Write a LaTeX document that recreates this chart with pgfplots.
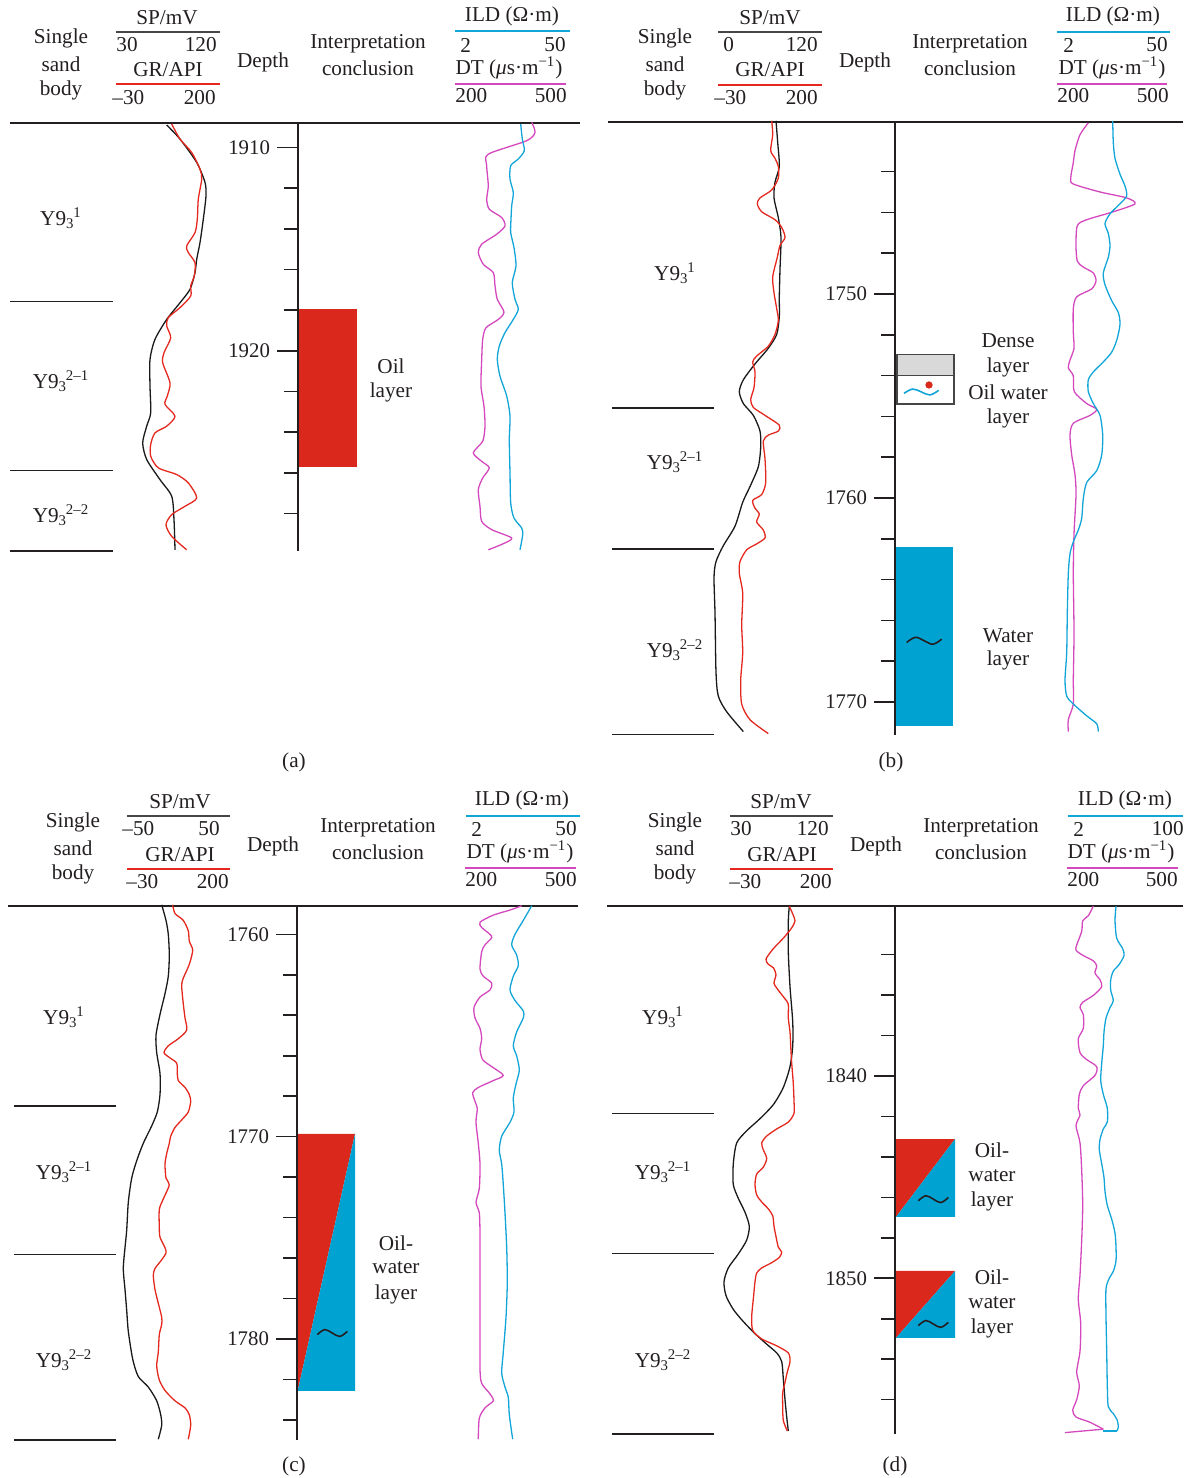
\documentclass[border=0pt]{standalone}
\usepackage{fontspec}
\setmainfont{Liberation Serif}
\usepackage{pgfplots}
\pgfplotsset{compat=1.18}

\definecolor{ink}{RGB}{35,31,32}
\definecolor{cSP}{RGB}{25,25,25}
\definecolor{cGR}{RGB}{228,40,30}
\definecolor{cILD}{RGB}{18,165,215}
\definecolor{cDT}{RGB}{212,72,190}
\definecolor{oilred}{RGB}{218,41,28}
\definecolor{watblue}{RGB}{0,162,210}
\definecolor{dense}{RGB}{217,217,217}
\definecolor{rulegray}{RGB}{70,70,70}

\newcommand\fs{\fontsize{10.6}{13}\selectfont}
\newcommand\numfont{\fontsize{10.4}{12}\selectfont}
\newcommand\Y[1]{Y9\textsubscript{3}\kern-0.6pt\textsuperscript{#1}}

\pgfplotsset{
  panel/.style={anchor=north west, scale only axis, width=594pt,
    xmin=0, xmax=1188, y dir=reverse, hide axis, clip=false},
  depthaxis/.style={anchor=north west, scale only axis, width=20pt,
    xmin=0, xmax=1, y dir=reverse, clip=false,
    axis x line=none, axis y line*=left, ytick pos=left, xtick=\empty,
    tick align=outside, major tick length=10.5pt, minor tick length=7pt,
    axis line style={ink, line width=0.8pt},
    every major tick/.append style={ink, line width=0.8pt},
    every minor tick/.append style={ink, line width=0.8pt},
    yticklabel style={font=\numfont, text=ink},
    /pgf/number format/assume math mode=true,
    /pgf/number format/1000 sep={}},
  logsp/.style={cSP, line width=0.65pt, smooth, tension=0.45, mark=none},
  loggr/.style={cGR, line width=0.65pt, smooth, tension=0.45, mark=none},
  logild/.style={cILD, line width=0.65pt, smooth, tension=0.45, mark=none},
  logdt/.style={cDT, line width=0.65pt, smooth, tension=0.45, mark=none},
  zone/.style={ink, line width=0.75pt, mark=none},
  wave/.style={line width=0.8pt, smooth, tension=0.6, mark=none},
}

\begin{document}
\begin{tikzpicture}
\path[use as bounding box] (0pt,0pt) rectangle (594pt,-739pt);

% ---------------- headers, captions and labels (pixel grid: 0.5pt per unit)
\begin{scope}[x=0.5pt, y=-0.5pt, every node/.style={font=\fs, text=ink, inner sep=0pt}]
  % (a)
  \node at (61,38) {Single}; \node at (61,64) {sand}; \node at (61,90) {body};
  \node at (167,18) {SP/mV};
  \draw[rulegray, line width=1pt] (116,32) -- (220,32);
  \node[anchor=west] at (116,45) {30}; \node[anchor=east] at (217,45) {120};
  \node at (168,70) {GR/API};
  \draw[cGR, line width=1pt] (116,84) -- (220,84);
  \node[anchor=west] at (112,98) {–30}; \node[anchor=east] at (216,98) {200};
  \node at (263,62) {Depth};
  \node at (368,44) {Interpretation}; \node at (368,68) {conclusion};
  \node at (512,16) {ILD (Ω·m)};
  \draw[cILD, line width=1pt] (455,31) -- (570,31);
  \node[anchor=west] at (460,45) {2}; \node[anchor=east] at (566,45) {50};
  \node at (509,68) {DT (\textit{μ}s·m\textsuperscript{−1})};
  \draw[cDT, line width=1pt] (455,84) -- (566,84);
  \node[anchor=west] at (455,96) {200}; \node[anchor=east] at (567,96) {500};
  \draw[ink, line width=0.8pt] (10,123) -- (580,123);
  \node at (61,218) {\Y{1}}; \node at (61,381) {\Y{2–1}}; \node at (61,515) {\Y{2–2}};
  \node at (391,366) {Oil}; \node at (391,392) {layer};
  \node at (294,762) {(a)};

  % (b)
  \node at (665,38) {Single}; \node at (665,64) {sand}; \node at (665,90) {body};
  \node at (770,18) {SP/mV};
  \draw[rulegray, line width=1pt] (718,32) -- (822,32);
  \node[anchor=west] at (723,45) {0}; \node[anchor=east] at (818,45) {120};
  \node at (770,70) {GR/API};
  \draw[cGR, line width=1pt] (718,85) -- (822,85);
  \node[anchor=west] at (714,98) {–30}; \node[anchor=east] at (818,98) {200};
  \node at (865,62) {Depth};
  \node at (970,44) {Interpretation}; \node at (970,68) {conclusion};
  \node at (1113,16) {ILD (Ω·m)};
  \draw[cILD, line width=1pt] (1057,32) -- (1170,32);
  \node[anchor=west] at (1063,45) {2}; \node[anchor=east] at (1168,45) {50};
  \node at (1112,68) {DT (\textit{μ}s·m\textsuperscript{−1})};
  \draw[cDT, line width=1pt] (1057,84) -- (1167,84);
  \node[anchor=west] at (1057,96) {200}; \node[anchor=east] at (1169,96) {500};
  \draw[ink, line width=0.8pt] (608,122) -- (1183,122);
  \node at (675,273) {\Y{1}}; \node at (675,462) {\Y{2–1}}; \node at (675,650) {\Y{2–2}};
  \node at (1008,341) {Dense}; \node at (1008,367) {layer};
  \node at (1008,392) {Oil water}; \node at (1008,418) {layer};
  \node at (1008,636) {Water}; \node at (1008,660) {layer};
  \node at (891,762) {(b)};

  % (c)
  \node at (73,822) {Single}; \node at (73,848) {sand}; \node at (73,874) {body};
  \node at (180,802) {SP/mV};
  \draw[rulegray, line width=1pt] (127,816) -- (230,816);
  \node[anchor=west] at (122,829) {–50}; \node[anchor=east] at (220,829) {50};
  \node at (180,855) {GR/API};
  \draw[cGR, line width=1pt] (127,869) -- (230,869);
  \node[anchor=west] at (126,882) {–30}; \node[anchor=east] at (229,882) {200};
  \node at (273,846) {Depth};
  \node at (378,828) {Interpretation}; \node at (378,852) {conclusion};
  \node at (522,800) {ILD (Ω·m)};
  \draw[cILD, line width=1pt] (466,816) -- (580,816);
  \node[anchor=west] at (471,829) {2}; \node[anchor=east] at (577,829) {50};
  \node at (520,852) {DT (\textit{μ}s·m\textsuperscript{−1})};
  \draw[cDT, line width=1pt] (465,868) -- (576,868);
  \node[anchor=west] at (465,880) {200}; \node[anchor=east] at (577,880) {500};
  \draw[ink, line width=0.8pt] (8,906) -- (578,906);
  \node at (64,1017) {\Y{1}}; \node at (64,1172) {\Y{2–1}}; \node at (64,1360) {\Y{2–2}};
  \node at (396,1243) {Oil-}; \node at (396,1268) {water}; \node at (396,1294) {layer};
  \node at (294,1466) {(c)};

  % (d)
  \node at (675,822) {Single}; \node at (675,848) {sand}; \node at (675,874) {body};
  \node at (781,802) {SP/mV};
  \draw[rulegray, line width=1pt] (730,816) -- (833,816);
  \node[anchor=west] at (730,829) {30}; \node[anchor=east] at (829,829) {120};
  \node at (782,855) {GR/API};
  \draw[cGR, line width=1pt] (730,869) -- (833,869);
  \node[anchor=west] at (729,882) {–30}; \node[anchor=east] at (832,882) {200};
  \node at (876,846) {Depth};
  \node at (981,828) {Interpretation}; \node at (981,852) {conclusion};
  \node at (1125,800) {ILD (Ω·m)};
  \draw[cILD, line width=1pt] (1068,816) -- (1183,816);
  \node[anchor=west] at (1073,829) {2}; \node[anchor=east] at (1184,829) {100};
  \node at (1121,852) {DT (\textit{μ}s·m\textsuperscript{−1})};
  \draw[cDT, line width=1pt] (1067,868) -- (1178,868);
  \node[anchor=west] at (1067,880) {200}; \node[anchor=east] at (1178,880) {500};
  \draw[ink, line width=0.8pt] (607,906) -- (1183,906);
  \node at (663,1017) {\Y{1}}; \node at (663,1172) {\Y{2–1}}; \node at (663,1360) {\Y{2–2}};
  \node at (992,1150) {Oil-}; \node at (992,1176) {water}; \node at (992,1201) {layer};
  \node at (992,1277) {Oil-}; \node at (992,1303) {water}; \node at (992,1328) {layer};
  \node at (895,1466) {(d)};
\end{scope}

% ======================= (a) well section, 1908.8-1929.85 m
\begin{axis}[panel, at={(0pt,-61.5pt)}, height=214pt, ymin=1908.8, ymax=1929.85]
  % sand-body boundaries
  \addplot[zone] coordinates {(10,1917.58) (113,1917.58)};
  \addplot[zone] coordinates {(10,1925.9) (113,1925.9)};
  \addplot[zone] coordinates {(10,1929.85) (113,1929.85)};
  % interpretation: oil layer
  \addplot[fill=oilred, draw=none] coordinates {(299,1917.95) (356.7,1917.95) (356.7,1925.7) (299,1925.7)} --cycle;
  % SP
  \addplot[logsp] coordinates {(166.7,1908.90) (180,1909.59) (196.7,1910.74) (205,1911.72) (206,1912.38) (203.3,1913.53) (200,1914.68) (196.7,1915.50) (195,1916.16) (190,1916.98) (180,1917.64) (166.7,1918.46) (155,1919.44) (150,1920.43) (150,1921.74) (150.7,1923.05) (146.7,1923.71) (142.7,1924.53) (146.7,1925.35) (160,1926.34) (171.7,1927.16) (174,1928.31) (175,1929.79)};
  % GR
  \addplot[loggr] coordinates {(171.7,1908.85) (180,1909.59) (191.7,1910.25) (200,1911.07) (201.7,1911.56) (198.3,1912.55) (197.3,1913.53) (195,1914.19) (186.7,1914.84) (188.3,1915.17) (195,1915.67) (194.3,1916.32) (190.7,1916.81) (190.7,1917.31) (180,1917.88) (168.3,1918.37) (166.7,1918.78) (170.7,1919.36) (164,1920.10) (162.7,1920.59) (170,1921.58) (167.3,1922.23) (165,1922.64) (175,1923.22) (166.7,1923.71) (155,1924.04) (150.7,1924.61) (150.7,1925.19) (158.3,1925.76) (176.7,1926.09) (188.3,1926.50) (196.7,1927.24) (185,1927.65) (171.7,1928.06) (166,1928.56) (171.7,1929.13) (186.7,1929.79)};
  % DT
  \addplot[logdt] coordinates {(531.7,1908.77) (535,1909.26) (526.7,1909.67) (488.3,1910.33) (486.7,1910.90) (488.3,1911.89) (486.7,1912.55) (489.3,1913.04) (501.7,1913.45) (505,1913.86) (496.7,1914.27) (481.7,1914.76) (478.3,1915.17) (483.3,1915.75) (493.3,1916.16) (495,1916.81) (497.3,1917.47) (504,1918.10) (498.3,1918.46) (486,1918.87) (482.7,1919.44) (481.7,1920.43) (481,1921.74) (484,1922.73) (485,1923.71) (482.7,1924.45) (473.3,1925.02) (481.7,1925.44) (489.3,1925.76) (482.7,1926.26) (478.3,1926.83) (480,1927.65) (481.7,1928.39) (491.7,1928.80) (511.7,1929.21) (503.3,1929.49) (488.3,1929.79)};
  % ILD
  \addplot[logild] coordinates {(520.7,1908.85) (522.3,1909.59) (524.3,1910.16) (518.3,1910.57) (510.7,1910.90) (510,1911.56) (513.3,1912.22) (511.7,1912.87) (511,1913.53) (510.7,1914.19) (514,1914.93) (516,1915.83) (512.3,1916.65) (515,1917.47) (518.3,1917.96) (513.3,1918.46) (505,1919.11) (499.3,1919.77) (497.3,1920.43) (500,1921.25) (506.7,1922.23) (510,1923.22) (509.3,1924.37) (510,1926.01) (510.7,1927.49) (514,1928.23) (521.7,1928.72) (522.7,1929.05) (520,1929.79)};
\end{axis}
\begin{axis}[depthaxis, at={(149pt,-61.5pt)}, height=214pt, ymin=1908.8, ymax=1929.85,
  ytick={1910,1920}, minor ytick={1912,1914,1916,1918,1922,1924,1926,1928}]
\end{axis}

% ======================= (b) well section, 1741.57-1771.62 m
\begin{axis}[panel, at={(0pt,-61pt)}, height=306.5pt, ymin=1741.57, ymax=1771.62]
  \addplot[zone] coordinates {(612,1755.6) (714,1755.6)};
  \addplot[zone] coordinates {(612,1762.5) (714,1762.5)};
  \addplot[zone] coordinates {(612,1771.6) (714,1771.6)};
  % interpretation: dense layer, oil-water layer, water layer
  \addplot[fill=dense, draw=rulegray, line width=0.9pt] coordinates {(897.3,1752.97) (954,1752.97) (954,1754.0) (897.3,1754.0)} --cycle;
  \addplot[fill=white, draw=rulegray, line width=0.9pt] coordinates {(897.3,1754.0) (954,1754.0) (954,1755.4) (897.3,1755.4)} --cycle;
  \addplot[wave, cILD] coordinates {(904,1754.87) (912.7,1754.66) (921.3,1754.8) (930,1754.95) (938.7,1754.72)};
  \addplot[only marks, mark=*, mark size=1.6pt, color=oilred] coordinates {(929,1754.46)};
  \addplot[fill=watblue, draw=none] coordinates {(896,1762.4) (952.7,1762.4) (952.7,1771.2) (896,1771.2)} --cycle;
  \addplot[wave, ink] coordinates {(906.7,1767.08) (915.5,1766.83) (924.2,1767.0) (933,1767.17) (941.7,1766.92)};
  % SP
  \addplot[logsp] coordinates {(776,1741.51) (777.7,1742.58) (779.3,1743.74) (775,1744.52) (774,1745.29) (778.3,1746.26) (781,1747.23) (780,1748.78) (779.3,1750.14) (779.3,1751.10) (776.7,1751.98) (768.3,1752.66) (755,1753.43) (743.3,1754.21) (739.3,1754.79) (743.3,1755.37) (753.3,1755.95) (760,1756.72) (760.7,1757.50) (758.3,1758.47) (750,1759.44) (742.7,1760.21) (735,1761.38) (723.3,1762.34) (716,1763.12) (714,1763.90) (715,1765.64) (716,1768.55) (718.3,1769.71) (726.7,1770.48) (743.3,1771.45)};
  % GR
  \addplot[loggr] coordinates {(771.7,1741.51) (772.7,1742.19) (770.7,1742.97) (775,1743.35) (778.3,1743.74) (778.3,1744.32) (771.7,1744.90) (760,1745.29) (757.3,1745.58) (761.7,1745.97) (775,1746.36) (781.7,1746.74) (785,1747.23) (780,1747.62) (777.3,1748.20) (772.7,1749.17) (774,1749.94) (776.7,1750.72) (778.3,1751.30) (775,1751.98) (768.3,1752.56) (756.7,1753.04) (752.7,1753.33) (755,1753.82) (754,1754.59) (750.7,1755.17) (753.3,1755.56) (765,1755.95) (779.3,1756.43) (778.3,1756.72) (768.3,1756.92) (763.3,1757.21) (765,1758.08) (765.7,1759.24) (761.7,1759.83) (752.7,1760.12) (755,1760.50) (759.3,1760.79) (756.7,1761.18) (763.3,1761.57) (765,1761.96) (756.7,1762.25) (746.7,1762.54) (740,1763.12) (739.3,1763.70) (742.7,1764.67) (741.7,1766.22) (742.7,1767.58) (740.7,1768.93) (741.7,1770.10) (750,1770.87) (768.3,1771.55)};
  % DT
  \addplot[logdt] coordinates {(1088.3,1741.61) (1080,1742.19) (1075,1742.97) (1073.3,1743.55) (1070.7,1744.32) (1073.3,1744.61) (1100,1745.00) (1126.7,1745.29) (1135,1745.58) (1113.3,1745.97) (1086.7,1746.36) (1077.3,1746.65) (1076,1747.62) (1077.3,1748.39) (1083.3,1748.68) (1093.3,1748.97) (1096,1749.36) (1091.7,1749.75) (1076.7,1750.14) (1073.3,1750.72) (1073.3,1751.88) (1074,1752.66) (1070,1753.24) (1068.3,1753.62) (1073.3,1754.01) (1074.3,1754.79) (1086.7,1755.37) (1096.7,1755.66) (1090,1755.95) (1073.3,1756.34) (1070,1756.92) (1071.7,1757.89) (1075,1758.86) (1076,1759.83) (1074,1761.77) (1073.3,1763.70) (1074,1766.61) (1073.3,1768.93) (1073.3,1770.10) (1068.3,1770.87) (1068.3,1771.45)};
  % ILD
  \addplot[logild] coordinates {(1112.7,1741.51) (1113.3,1742.58) (1115,1743.35) (1120,1744.13) (1125,1744.71) (1126.7,1745.19) (1120,1745.58) (1110,1746.07) (1105,1746.55) (1108.3,1747.03) (1110,1747.62) (1108.3,1748.20) (1103.3,1748.97) (1105,1749.55) (1111.7,1750.33) (1118.3,1750.91) (1120,1751.49) (1116.7,1752.27) (1111.7,1752.85) (1103.3,1753.33) (1093.3,1753.82) (1088.3,1754.21) (1088.3,1754.79) (1093.3,1755.37) (1100,1755.95) (1102.7,1756.92) (1101.7,1757.89) (1096.7,1758.66) (1086.7,1759.24) (1083.3,1760.02) (1081.7,1760.99) (1078.3,1761.57) (1073.3,1762.15) (1070,1762.73) (1068.3,1763.70) (1067.3,1765.64) (1066.7,1767.58) (1065,1768.93) (1066.7,1769.71) (1073.3,1770.10) (1086.7,1770.68) (1096.7,1771.07) (1098.3,1771.45)};
\end{axis}
\begin{axis}[depthaxis, at={(447.5pt,-61pt)}, height=306.5pt, ymin=1741.57, ymax=1771.62,
  ytick={1750,1760,1770}, minor ytick={1744,1746,1748,1752,1754,1756,1758,1762,1764,1766,1768}]
\end{axis}

% ======================= (c) well section, 1758.6-1785.0 m
\begin{axis}[panel, at={(0pt,-453pt)}, height=267pt, ymin=1758.6, ymax=1785.0]
  \addplot[zone] coordinates {(14,1768.49) (116,1768.49)};
  \addplot[zone] coordinates {(14,1775.83) (116,1775.83)};
  \addplot[zone] coordinates {(14,1785.0) (116,1785.0)};
  % interpretation: oil-water layer
  \addplot[fill=oilred, draw=none] coordinates {(297.7,1769.87) (355,1769.87) (297.7,1782.57)} --cycle;
  \addplot[fill=watblue, draw=none] coordinates {(355,1769.87) (355,1782.57) (297.7,1782.57)} --cycle;
  \addplot[wave, ink] coordinates {(317.3,1779.79) (324.8,1779.54) (332.3,1779.71) (339.8,1779.88) (347.3,1779.63)};
  % SP
  \addplot[logsp] coordinates {(161.7,1758.54) (166,1759.31) (168.3,1760.00) (169.3,1761.03) (168.3,1762.07) (165,1762.93) (160,1763.96) (156,1764.99) (156.7,1765.85) (160,1766.88) (160,1767.92) (157.3,1768.78) (151.7,1769.47) (143.3,1770.33) (136.7,1771.19) (131.7,1772.05) (128.3,1773.25) (126.7,1774.63) (125,1775.49) (123.3,1776.52) (125,1777.56) (126.7,1778.59) (128.3,1779.62) (132.7,1781.00) (138.3,1781.86) (148.3,1782.38) (156.7,1783.06) (160.7,1783.75) (161.7,1784.27) (158.3,1784.96)};
  % GR
  \addplot[loggr] coordinates {(172.7,1758.54) (175,1758.97) (183.3,1759.31) (188.3,1759.83) (189.3,1760.34) (192.7,1760.77) (190,1761.38) (187.3,1761.72) (182.7,1762.24) (181.7,1762.58) (183.3,1763.44) (185,1764.13) (186.7,1764.73) (178.3,1765.16) (168.3,1765.51) (164,1765.85) (170,1766.11) (176.7,1766.37) (177.3,1766.88) (178.3,1767.23) (185,1767.57) (189.3,1767.92) (190.7,1768.26) (188.3,1768.78) (182.7,1769.12) (175,1769.55) (170.7,1769.98) (169.3,1770.33) (166.7,1770.84) (165,1771.36) (166,1772.05) (169.3,1772.39) (163.3,1773.08) (159.3,1773.60) (159.3,1774.46) (160,1774.97) (165,1775.49) (166,1775.75) (161.7,1776.09) (155,1776.52) (153.3,1776.87) (155,1777.56) (158.3,1778.24) (161.7,1778.93) (161.7,1779.28) (159.3,1779.79) (158.3,1780.65) (156.7,1781.34) (159.3,1782.03) (165,1782.55) (175,1783.06) (185,1783.41) (189.3,1783.75) (190.7,1784.27) (188.3,1784.96)};
  % DT
  \addplot[logdt] coordinates {(521.7,1758.59) (510,1758.80) (493.3,1759.05) (480,1759.40) (481.7,1759.66) (490,1760.00) (491.7,1760.17) (485,1760.52) (481.7,1760.86) (480,1761.72) (483.3,1762.07) (491.7,1762.41) (490,1762.75) (480,1763.10) (474,1763.61) (475,1764.13) (480,1764.65) (481.7,1765.16) (480,1765.68) (482.7,1766.20) (491.7,1766.54) (503.3,1766.97) (493.3,1767.23) (478.3,1767.57) (472.7,1767.83) (475,1768.26) (477.3,1768.61) (476,1769.29) (478.3,1770.33) (480,1771.36) (479.3,1772.56) (476,1773.25) (479.3,1773.77) (480,1774.80) (480,1776.35) (480,1778.07) (480,1779.79) (480,1781.51) (481.7,1782.20) (490,1782.72) (493.3,1783.06) (485,1783.41) (479.3,1783.92) (478.3,1784.96)};
  % ILD
  \addplot[logild] coordinates {(531.7,1758.59) (523.3,1759.31) (515,1760.00) (511.7,1760.52) (516.7,1761.03) (518.3,1761.55) (513.3,1762.07) (510,1762.75) (515,1763.27) (523.3,1763.79) (523.3,1764.13) (516.7,1764.82) (513.3,1765.51) (516.7,1766.02) (519.3,1766.71) (516,1767.40) (513.3,1768.09) (514,1768.78) (510,1769.29) (501.7,1769.98) (499.3,1770.67) (501.7,1771.36) (503.3,1772.39) (505,1773.77) (506.7,1775.49) (507.3,1777.21) (506,1778.93) (503.3,1780.65) (501.7,1781.69) (505,1782.38) (508.3,1782.89) (509.3,1783.75) (512.7,1784.96)};
\end{axis}
\begin{axis}[depthaxis, at={(148.5pt,-453pt)}, height=267pt, ymin=1758.6, ymax=1785.0,
  ytick={1760,1770,1780}, minor ytick={1762,1764,1766,1768,1772,1774,1776,1778,1782,1784}]
\end{axis}

% ======================= (d) well section, 1831.6-1857.7 m
\begin{axis}[panel, at={(0pt,-453pt)}, height=264pt, ymin=1831.6, ymax=1857.7]
  \addplot[zone] coordinates {(612,1841.85) (714,1841.85)};
  \addplot[zone] coordinates {(612,1848.77) (714,1848.77)};
  \addplot[zone] coordinates {(612,1857.7) (714,1857.7)};
  % interpretation: two oil-water layers
  \addplot[fill=oilred, draw=none] coordinates {(896,1843.12) (955,1843.12) (896,1846.97)} --cycle;
  \addplot[fill=watblue, draw=none] coordinates {(955,1843.12) (955,1846.97) (896,1846.97)} --cycle;
  \addplot[wave, ink] coordinates {(918.3,1846.17) (925.8,1845.92) (933.3,1846.09) (940.8,1846.26) (948.3,1846.01)};
  \addplot[fill=oilred, draw=none] coordinates {(896,1849.64) (955,1849.64) (896,1852.95)} --cycle;
  \addplot[fill=watblue, draw=none] coordinates {(955,1849.64) (955,1852.95) (896,1852.95)} --cycle;
  \addplot[wave, ink] coordinates {(918.3,1852.34) (925.8,1852.09) (933.3,1852.26) (940.8,1852.43) (948.3,1852.18)};
  % SP
  \addplot[logsp] coordinates {(789.3,1831.61) (788.3,1832.33) (788.3,1833.88) (790,1835.59) (792.7,1837.31) (792.7,1838.51) (790,1839.54) (783.3,1840.57) (773.3,1841.42) (760,1842.11) (746.7,1842.71) (736.7,1843.31) (733.3,1844.34) (733.3,1845.37) (738.3,1846.05) (745,1846.74) (749.3,1847.43) (746.7,1848.11) (738.3,1848.80) (728.3,1849.49) (724,1850.17) (726,1850.86) (733.3,1851.54) (743.3,1852.14) (755,1852.74) (766.7,1853.26) (776.7,1853.69) (781.7,1854.12) (783.3,1854.97) (785,1856.00) (786.7,1856.86) (788.3,1857.55)};
  % GR
  \addplot[loggr] coordinates {(789.3,1831.61) (792.7,1831.99) (795,1832.33) (791.7,1832.68) (783.3,1833.19) (773.3,1833.71) (766,1834.22) (768.3,1834.48) (773.3,1834.65) (776,1834.99) (774,1835.42) (778.3,1835.76) (785,1836.19) (788.3,1836.45) (788.3,1837.14) (790,1837.82) (790.7,1838.51) (791.7,1839.37) (793.3,1840.39) (794,1841.25) (794,1841.85) (788.3,1842.28) (776.7,1842.62) (766.7,1842.97) (761.7,1843.31) (763.3,1843.65) (766.7,1844.08) (763.3,1844.51) (756.7,1844.85) (755,1845.37) (756.7,1845.88) (761.7,1846.23) (768.3,1846.57) (772.7,1846.91) (774,1847.43) (776,1847.94) (778.3,1848.46) (781.7,1848.71) (779.3,1848.97) (771.7,1849.23) (761.7,1849.49) (756.7,1849.74) (755,1850.17) (753.3,1851.03) (751.7,1851.89) (752.7,1852.57) (761.7,1853.00) (776.7,1853.34) (788.3,1853.69) (790,1854.12) (787.3,1854.63) (785,1855.15) (782.7,1855.66) (782.7,1856.35) (783.3,1857.03) (787.3,1857.55)};
  % DT
  \addplot[logdt] coordinates {(1093.3,1831.61) (1088.3,1832.08) (1082.7,1832.33) (1081.7,1832.85) (1076.7,1833.53) (1076,1833.79) (1083.3,1834.05) (1093.3,1834.31) (1096.7,1834.56) (1095,1834.91) (1100,1835.25) (1101.7,1835.59) (1093.3,1836.02) (1082.7,1836.36) (1080,1836.62) (1083.3,1836.96) (1083.3,1837.65) (1078.3,1838.16) (1080,1838.85) (1086.7,1839.19) (1096.7,1839.54) (1095,1839.97) (1083.3,1840.48) (1079.3,1840.91) (1078.3,1841.60) (1080,1841.94) (1076,1842.45) (1080,1843.31) (1081.7,1844.68) (1082.7,1846.40) (1081.7,1848.11) (1080,1849.83) (1078.3,1851.03) (1080.7,1852.23) (1080,1853.60) (1076.7,1854.63) (1079.3,1855.32) (1076.7,1856.00) (1072.7,1856.52) (1076,1856.86) (1090,1857.12) (1103.3,1857.46)};
  \addplot[cDT, line width=0.65pt] coordinates {(1103.3,1857.46) (1065,1857.63)};
  % ILD
  \addplot[logild] coordinates {(1116,1831.61) (1115,1832.33) (1116.7,1833.19) (1122.7,1833.71) (1124,1834.05) (1119.3,1834.48) (1113.3,1834.82) (1110.7,1835.25) (1110.7,1835.76) (1113.3,1836.28) (1110,1836.62) (1106,1837.14) (1104,1837.82) (1103.3,1838.51) (1101.7,1839.37) (1100.7,1840.22) (1103.3,1840.91) (1107.3,1841.60) (1107.3,1842.28) (1103.3,1842.62) (1100,1843.14) (1099.3,1843.65) (1101.7,1844.34) (1104,1845.03) (1105,1845.71) (1107.3,1846.40) (1111.7,1847.08) (1115,1847.77) (1116,1848.46) (1116,1849.14) (1113.3,1849.66) (1109.3,1850.00) (1106,1850.51) (1106,1851.89) (1106.7,1853.60) (1107.3,1855.32) (1108.3,1856.35) (1113.3,1856.69) (1117.3,1857.03) (1118.3,1857.38) (1116.7,1857.55)};
  \addplot[cILD, line width=0.65pt] coordinates {(1116.7,1857.55) (1103.3,1857.55)};
\end{axis}
\begin{axis}[depthaxis, at={(447.5pt,-453pt)}, height=264pt, ymin=1831.6, ymax=1857.7,
  ytick={1840,1850}, minor ytick={1834,1836,1838,1842,1844,1846,1848,1852,1854,1856}]
\end{axis}
\end{tikzpicture}
\end{document}
